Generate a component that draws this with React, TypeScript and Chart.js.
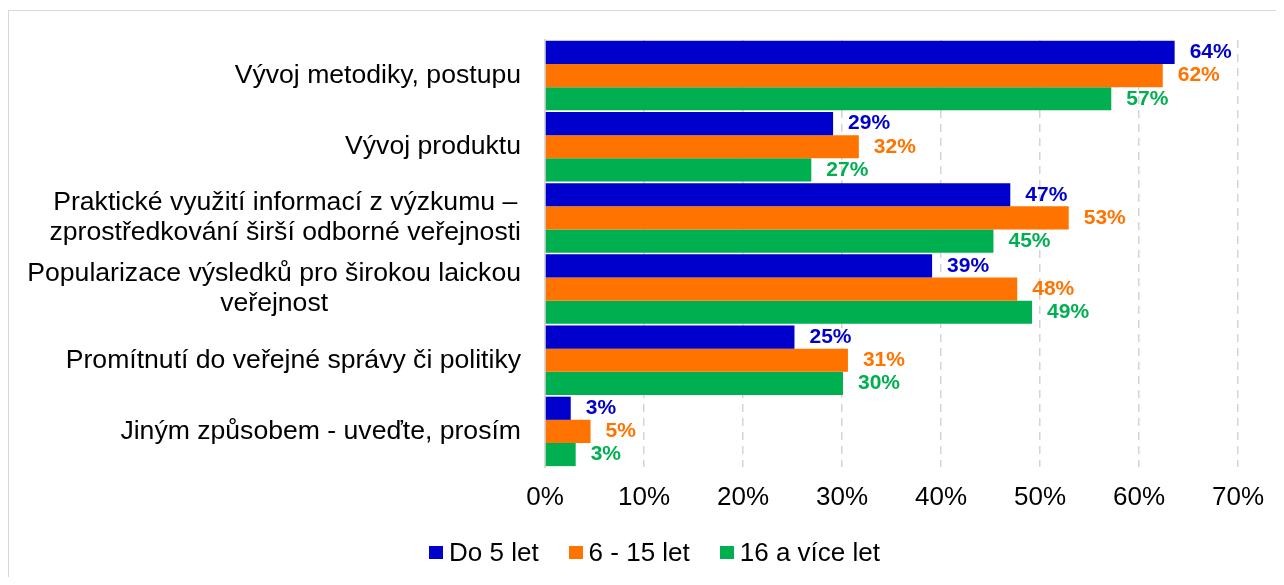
import React, { useEffect, useRef } from 'react';
import { Chart, registerables } from 'chart.js';

Chart.register(...registerables);

// ---- data ----
const categories: string[][] = [
  ['Vývoj metodiky, postupu'],
  ['Vývoj produktu'],
  ['Praktické využití informací z výzkumu –', 'zprostředkování širší odborné veřejnosti'],
  ['Popularizace výsledků pro širokou laickou', 'veřejnost'],
  ['Promítnutí do veřejné správy či politiky'],
  ['Jiným způsobem - uveďte, prosím'],
];
const seriesNames = ['Do 5 let', '6 - 15 let', '16 a více let'];
const valuesDo5 = [63.6, 29.1, 47.0, 39.1, 25.2, 2.6];
const values6to15 = [62.4, 31.7, 52.9, 47.7, 30.6, 4.6];
const values16plus = [57.2, 26.9, 45.3, 49.2, 30.1, 3.1];
const xTickValues = [0, 10, 20, 30, 40, 50, 60, 70];
const seriesColors = ['#0000CC', '#FF7400', '#00B050'];

const FONT = '"Liberation Sans", Arial, Helvetica, sans-serif';

const yLabelPlugin = {
  id: 'yLabels',
  afterDraw(chart: any) {
    const ctx = chart.ctx;
    const yScale = chart.scales.y;
    const right = chart.chartArea.left - 24;
    ctx.save();
    ctx.font = `26.6px ${FONT}`;
    ctx.fillStyle = '#000000';
    ctx.textBaseline = 'middle';
    ctx.textAlign = 'center';
    categories.forEach((lines, i) => {
      const cy = yScale.getPixelForValue(i);
      const w = Math.max(...lines.map((l) => ctx.measureText(l).width));
      const cx = right - w / 2;
      lines.forEach((l, j) => {
        ctx.fillText(l, cx, cy + (j - (lines.length - 1) / 2) * 30);
      });
    });
    ctx.restore();
  },
};

const valueLabelPlugin = {
  id: 'valueLabels',
  afterDatasetsDraw(chart: any) {
    const ctx = chart.ctx;
    ctx.save();
    ctx.font = `bold 21px ${FONT}`;
    ctx.textBaseline = 'middle';
    ctx.textAlign = 'left';
    chart.data.datasets.forEach((ds: any, di: number) => {
      const meta = chart.getDatasetMeta(di);
      ctx.fillStyle = seriesColors[di];
      meta.data.forEach((bar: any, i: number) => {
        const v = ds.data[i];
        ctx.fillText(`${Math.round(v)}%`, bar.x + 15, bar.y);
      });
    });
    ctx.restore();
  },
};

export default function App() {
  const canvasRef = useRef<HTMLCanvasElement | null>(null);

  useEffect(() => {
    if (!canvasRef.current) return;
    const seriesData = [valuesDo5, values6to15, values16plus];
    const chart = new Chart(canvasRef.current, {
      type: 'bar',
      data: {
        labels: categories.map((c) => c.join(' ')),
        datasets: seriesNames.map((name, i) => ({
          label: name,
          data: seriesData[i],
          backgroundColor: seriesColors[i],
          borderWidth: 0,
          barPercentage: 1,
          categoryPercentage: 0.976,
        })),
      },
      options: {
        indexAxis: 'y',
        responsive: false,
        animation: false,
        devicePixelRatio: 1,
        layout: { padding: { top: 29, right: 46, left: 0, bottom: 70 } },
        plugins: {
          legend: { display: false },
          tooltip: { enabled: false },
        },
        scales: {
          x: {
            min: 0,
            max: 70,
            afterBuildTicks: (scale: any) => {
              scale.ticks = xTickValues.map((v) => ({ value: v }));
            },
            afterFit: (scale: any) => {
              scale.height = 40;
            },
            ticks: {
              callback: (v: any) => `${v}%`,
              color: '#000000',
              font: { family: FONT, size: 26, lineHeight: 1.2 },
              padding: 15,
              maxRotation: 0,
            },
            grid: {
              drawTicks: false,
              color: (ctx: any) => (ctx.tick && ctx.tick.value === 0 ? 'rgba(0,0,0,0)' : '#d4d4d4'),
              lineWidth: 1.5,
            },
            border: { display: false, dash: [8, 6] },
          },
          y: {
            afterFit: (scale: any) => {
              scale.width = 536;
            },
            ticks: { display: false },
            grid: { drawTicks: false, color: 'rgba(0,0,0,0)' },
            border: { display: true, color: '#d9d9d9', width: 2 },
          },
        },
      },
      plugins: [yLabelPlugin, valueLabelPlugin],
    } as any);
    return () => chart.destroy();
  }, []);

  const legendText: React.CSSProperties = {
    fontFamily: FONT,
    fontSize: 26,
    lineHeight: '30px',
    color: '#000',
    whiteSpace: 'nowrap',
  };

  return (
    <div style={{ paddingTop: 2 }}>
      <div
        style={{
          position: 'relative',
          width: 1276,
          height: 567,
          boxSizing: 'border-box',
          borderTop: '1px solid #d9d9d9',
          borderLeft: '1px solid #d9d9d9',
          background: '#fff',
        }}
      >
        <canvas ref={canvasRef} width={1275} height={566} style={{ display: 'block', width: 1275, height: 566 }} />
        <div
          style={{
            position: 'absolute',
            left: 420,
            top: 526,
            display: 'flex',
            alignItems: 'center',
            height: 30,
          }}
        >
          {seriesNames.map((name, i) => (
            <div key={name} style={{ display: 'flex', alignItems: 'center', marginRight: 30 }}>
              <span
                style={{
                  display: 'inline-block',
                  width: 14,
                  height: 13,
                  background: seriesColors[i],
                  marginRight: 6,
                }}
              />
              <span style={legendText}>{name}</span>
            </div>
          ))}
        </div>
      </div>
    </div>
  );
}
